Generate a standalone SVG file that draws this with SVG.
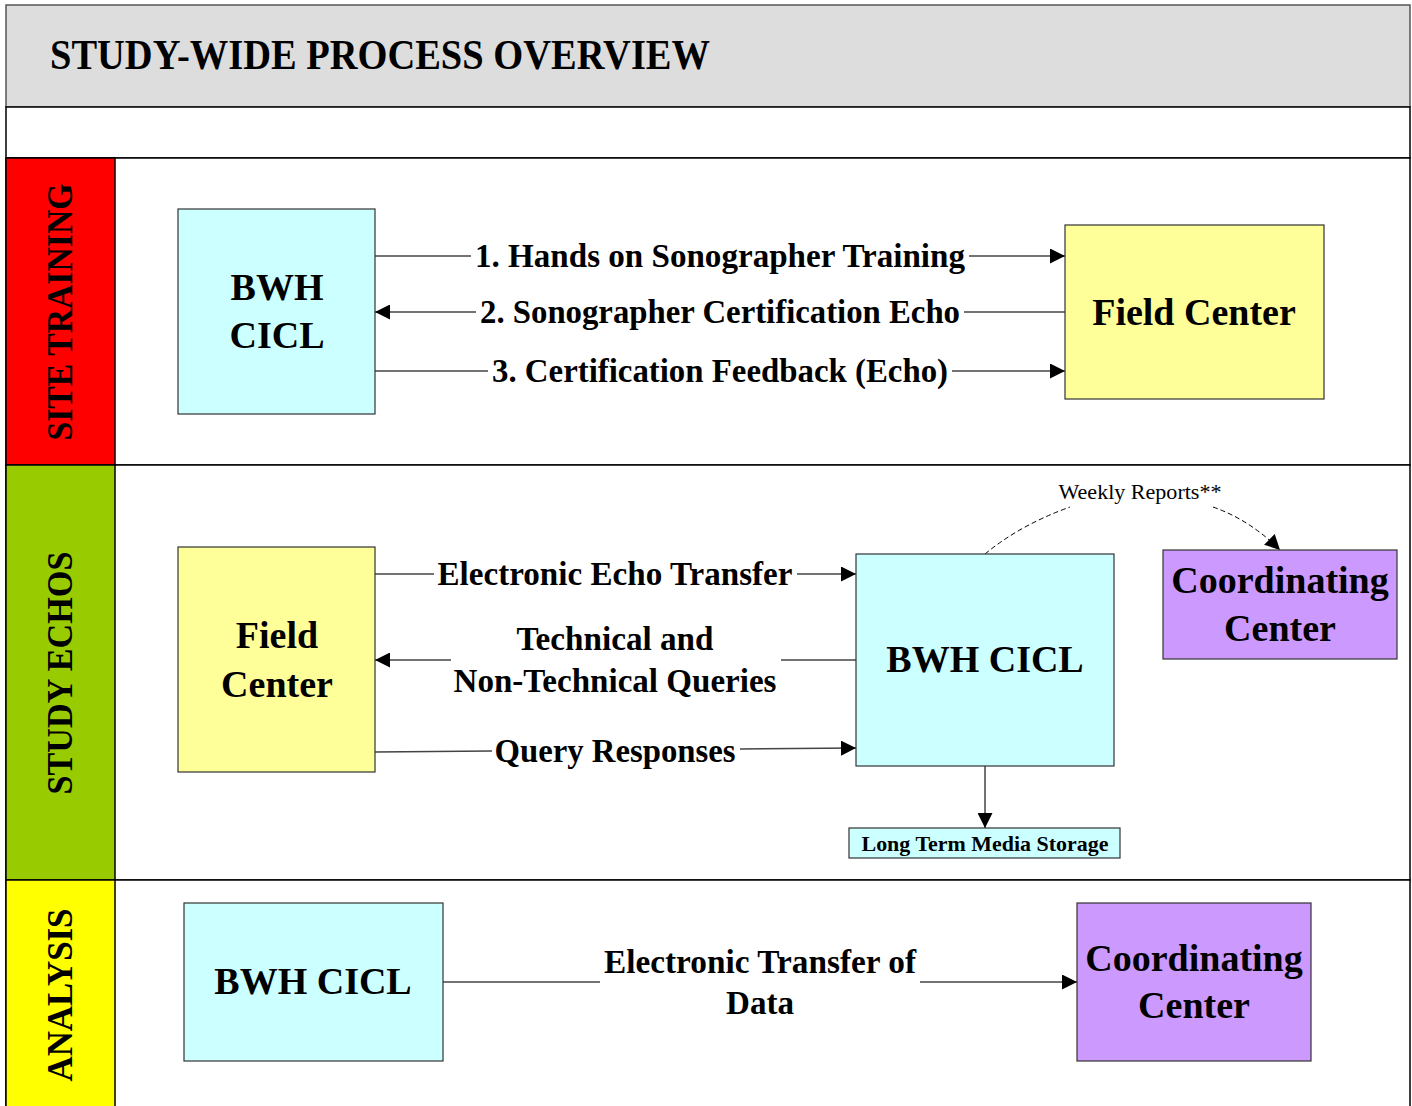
<svg xmlns="http://www.w3.org/2000/svg" width="1412" height="1106" viewBox="0 0 1412 1106">
<style>
.t{font-family:"Liberation Serif","Times New Roman",serif;font-weight:bold;fill:#000;text-anchor:middle}
.big{font-size:38px}
.lbl{font-size:33px}
.lane{font-size:35px}
.box{stroke:#333;stroke-width:1.2}
.cyan{fill:#ccffff}
.yel{fill:#ffff99}
.pur{fill:#cc99ff}
.ln{stroke:#444;stroke-width:1.5;fill:none}
.dash{stroke:#000;stroke-width:1;fill:none;stroke-dasharray:5 3}
</style>
<defs>
<marker id="ah" viewBox="0 0 10 10" refX="10" refY="5" markerWidth="15" markerHeight="15" markerUnits="userSpaceOnUse" orient="auto">
<path d="M0,0 L10,5 L0,10 z" fill="#000"/>
</marker>
</defs>
<rect x="0" y="0" width="1412" height="1106" fill="#fff"/>
<g id="frame">
<rect x="6" y="5" width="1404" height="102" fill="#dddddd" stroke="#555" stroke-width="1.5"/>
<rect x="6" y="107" width="1404" height="51" fill="#fff" stroke="#000" stroke-width="1.5"/>
<rect x="6" y="158" width="1404" height="307" fill="#fff" stroke="#000" stroke-width="1.5"/>
<rect x="6" y="465" width="1404" height="415" fill="#fff" stroke="#000" stroke-width="1.5"/>
<rect x="6" y="880" width="1404" height="230" fill="#fff" stroke="#000" stroke-width="1.5"/>
<rect x="6" y="158" width="109" height="307" fill="#ff0000" stroke="#000" stroke-width="1.5"/>
<rect x="6" y="465" width="109" height="415" fill="#99cc00" stroke="#000" stroke-width="1.5"/>
<rect x="6" y="880" width="109" height="230" fill="#ffff00" stroke="#000" stroke-width="1.5"/>
<text class="t" x="50" y="69" style="text-anchor:start;font-size:42px" textLength="660" lengthAdjust="spacingAndGlyphs">STUDY-WIDE PROCESS OVERVIEW</text>
<text class="t lane" transform="translate(72,312) rotate(-90)" textLength="257" lengthAdjust="spacingAndGlyphs">SITE TRAINING</text>
<text class="t lane" transform="translate(72,673) rotate(-90)" textLength="243" lengthAdjust="spacingAndGlyphs">STUDY ECHOS</text>
<text class="t lane" transform="translate(72,995) rotate(-90)" textLength="173" lengthAdjust="spacingAndGlyphs">ANALYSIS</text>
</g>
<g id="connectors">
<line class="ln" x1="375" y1="256" x2="471" y2="256"/>
<line class="ln" x1="969" y1="256" x2="1065" y2="256" marker-end="url(#ah)"/>
<line class="ln" x1="1065" y1="312" x2="964" y2="312"/>
<line class="ln" x1="476" y1="312" x2="375" y2="312" marker-end="url(#ah)"/>
<line class="ln" x1="375" y1="371" x2="488" y2="371"/>
<line class="ln" x1="952" y1="371" x2="1065" y2="371" marker-end="url(#ah)"/>
<line class="ln" x1="375" y1="574" x2="434" y2="574"/>
<line class="ln" x1="797" y1="574" x2="856" y2="574" marker-end="url(#ah)"/>
<line class="ln" x1="856" y1="660" x2="781" y2="660"/>
<line class="ln" x1="451" y1="660" x2="375" y2="660" marker-end="url(#ah)"/>
<line class="ln" x1="375" y1="752" x2="492" y2="751"/>
<line class="ln" x1="740" y1="749" x2="856" y2="748" marker-end="url(#ah)"/>
<line class="ln" x1="985" y1="766" x2="985" y2="828" marker-end="url(#ah)"/>
<path class="dash" d="M985,554 Q1020,525 1070,507"/>
<path class="dash" d="M1213,507 Q1250,520 1280,550" marker-end="url(#ah)"/>
<line class="ln" x1="443" y1="982" x2="600" y2="982"/>
<line class="ln" x1="920" y1="982" x2="1077" y2="982" marker-end="url(#ah)"/>
<text class="t lbl" x="720" y="267" textLength="490" lengthAdjust="spacingAndGlyphs">1. Hands on Sonographer Training</text>
<text class="t lbl" x="720" y="323" textLength="480" lengthAdjust="spacingAndGlyphs">2. Sonographer Certification Echo</text>
<text class="t lbl" x="720" y="382" textLength="456" lengthAdjust="spacingAndGlyphs">3. Certification Feedback (Echo)</text>
<text class="t lbl" x="615" y="585" textLength="355" lengthAdjust="spacingAndGlyphs">Electronic Echo Transfer</text>
<text class="t lbl" x="615" y="650" textLength="197" lengthAdjust="spacingAndGlyphs">Technical and</text>
<text class="t lbl" x="615" y="692" textLength="323" lengthAdjust="spacingAndGlyphs">Non-Technical Queries</text>
<text class="t lbl" x="615" y="762" textLength="241" lengthAdjust="spacingAndGlyphs">Query Responses</text>
<text x="1140" y="499" style="font-family:'Liberation Serif','Times New Roman',serif;font-size:21px;text-anchor:middle" textLength="163" lengthAdjust="spacingAndGlyphs">Weekly Reports**</text>
<text class="t lbl" x="760" y="973" textLength="312" lengthAdjust="spacingAndGlyphs">Electronic Transfer of</text>
<text class="t lbl" x="760" y="1014" textLength="68" lengthAdjust="spacingAndGlyphs">Data</text>
</g>
<g id="st-bwh">
<rect class="box cyan" x="178" y="209" width="197" height="205"/>
<text class="t big" x="277" y="300">BWH</text>
<text class="t big" x="277" y="348">CICL</text>
</g>
<g id="st-field">
<rect class="box yel" x="1065" y="225" width="259" height="174"/>
<text class="t big" x="1194" y="325">Field Center</text>
</g>
<g id="se-field">
<rect class="box yel" x="178" y="547" width="197" height="225"/>
<text class="t big" x="277" y="648">Field</text>
<text class="t big" x="277" y="697">Center</text>
</g>
<g id="se-bwh">
<rect class="box cyan" x="856" y="554" width="258" height="212"/>
<text class="t big" x="985" y="672">BWH CICL</text>
</g>
<g id="se-coord">
<rect class="box pur" x="1163" y="550" width="234" height="109"/>
<text class="t big" x="1280" y="593">Coordinating</text>
<text class="t big" x="1280" y="641">Center</text>
</g>
<g id="se-storage">
<rect class="box cyan" x="849" y="828" width="271" height="30"/>
<text class="t" x="985" y="851" style="font-size:22px" textLength="247" lengthAdjust="spacingAndGlyphs">Long Term Media Storage</text>
</g>
<g id="an-bwh">
<rect class="box cyan" x="184" y="903" width="259" height="158"/>
<text class="t big" x="313" y="994">BWH CICL</text>
</g>
<g id="an-coord">
<rect class="box pur" x="1077" y="903" width="234" height="158"/>
<text class="t big" x="1194" y="971">Coordinating</text>
<text class="t big" x="1194" y="1018">Center</text>
</g>
</svg>
